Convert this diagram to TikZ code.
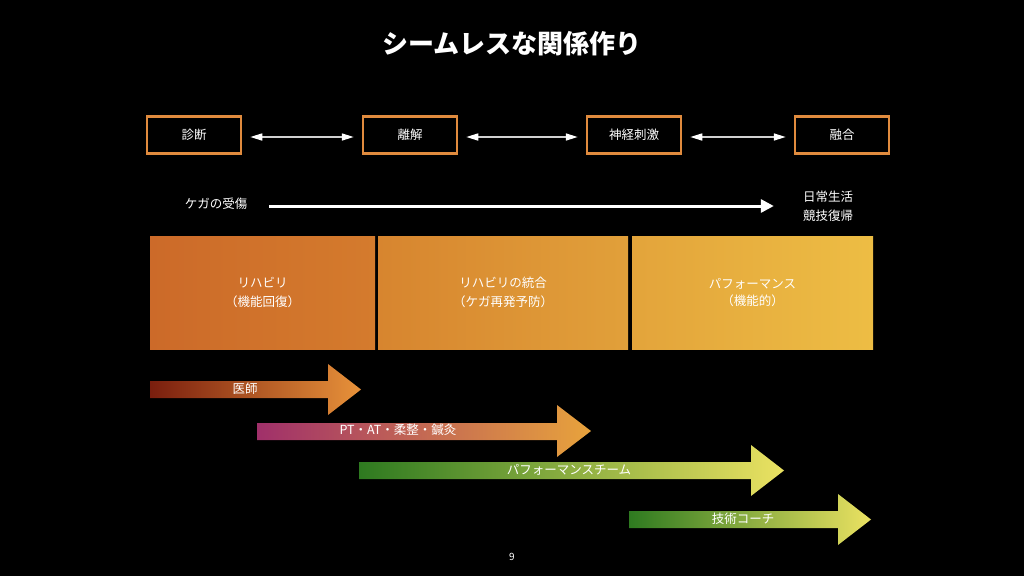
\documentclass[tikz,border=0pt]{standalone}
\usepackage{fontspec}
\setmainfont{Noto Sans CJK JP}
\usetikzlibrary{arrows.meta}
\definecolor{boxorange}{HTML}{E08B3E}
\definecolor{linkgray}{HTML}{D0D0D0}
\definecolor{pA}{HTML}{CC6A29}
\definecolor{pB}{HTML}{D47B2D}
\definecolor{pC}{HTML}{D7852F}
\definecolor{pD}{HTML}{E1A03A}
\definecolor{pE}{HTML}{E3A43B}
\definecolor{pF}{HTML}{EDBD44}
\definecolor{darkred}{HTML}{7A1E0E}
\definecolor{orangeA}{HTML}{E8923A}
\definecolor{magentaA}{HTML}{A0306A}
\definecolor{orangeB}{HTML}{E8A33C}
\definecolor{greenA}{HTML}{2E7A20}
\definecolor{yellowA}{HTML}{EBE262}
\begin{document}
\begin{tikzpicture}[x=1pt,y=-1pt,
  txt/.style={text=white, inner sep=0pt, font=\fontsize{12.5}{19}\selectfont},
  stage/.style={txt, draw=boxorange, line width=2.5pt, fill=black, minimum width=94pt, minimum height=37pt},
  link/.style={draw=linkgray, line width=1.6pt,
    {Triangle[length=12pt,width=7pt,fill=white,color=white]}-{Triangle[length=12pt,width=7pt,fill=white,color=white]},
    shorten <=8pt, shorten >=8pt},
  mainarrow/.style={draw=white, line width=3pt, -{Triangle[length=13pt,width=13pt]}, shorten <=22pt, shorten >=29pt},
  phase/.style={txt, align=center, minimum height=113pt}
]
\fill[black] (0,0) rectangle (1024,576);
\useasboundingbox (0,0) rectangle (1024,576);

\node[text=white, font=\fontsize{26}{30}\selectfont\bfseries] (title) at (512,44) {シームレスな関係作り};

\node[stage] (s1) at (194,135) {診断};
\node[stage] (s2) at (410,135) {離解};
\node[stage] (s3) at (634,135) {神経刺激};
\node[stage] (s4) at (842,135) {融合};
\draw[link] ([yshift=-2pt]s1.east) -- ([yshift=-2pt]s2.west);
\draw[link] ([yshift=-2pt]s2.east) -- ([yshift=-2pt]s3.west);
\draw[link] ([yshift=-2pt]s3.east) -- ([yshift=-2pt]s4.west);

\node[txt] (injury) at (216,204) {ケガの受傷};
\node[txt, align=center] (ret) at (828,206) {日常生活\\競技復帰};
\draw[mainarrow] (injury.east |- ret.west) -- (ret.west);

\node[phase, minimum width=225pt, left color=pA, right color=pB] (p1) at (262.5,292.5) {リハビリ\\（機能回復）};
\node[phase, minimum width=250pt, left color=pC, right color=pD] (p2) at (503,292.5) {リハビリの統合\\（ケガ再発予防）};
\node[phase, minimum width=241pt, left color=pE, right color=pF] (p3) at (752.5,292.5) {\raisebox{-3pt}{\shortstack{パフォーマンス\\[2pt]（機能的）}}};

\shade[left color=darkred, right color=orangeA] (150,381) -- (328,381) -- (328,364) -- (361,389.5) -- (328,415) -- (328,398) -- (150,398) -- cycle;
\shade[left color=magentaA, right color=orangeB] (257,423) -- (557,423) -- (557,405) -- (591,431) -- (557,457) -- (557,440) -- (257,440) -- cycle;
\shade[left color=greenA, right color=yellowA] (359,462) -- (751,462) -- (751,445) -- (784,470.5) -- (751,496) -- (751,479) -- (359,479) -- cycle;
\shade[left color=greenA, right color=yellowA] (629,511) -- (838,511) -- (838,494) -- (871,519.5) -- (838,545) -- (838,528) -- (629,528) -- cycle;

\node[txt] (doc) at (245,389) {医師};
\node[txt] (pt) at (398,430) {PT・AT・柔整・鍼灸};
\node[txt] (team) at (569,470) {パフォーマンスチーム};
\node[txt] (coach) at (743,519) {技術コーチ};

\node[text=white, inner sep=0pt, font=\fontsize{10}{11}\selectfont] (page) at (512,557) {9};
\end{tikzpicture}
\end{document}
